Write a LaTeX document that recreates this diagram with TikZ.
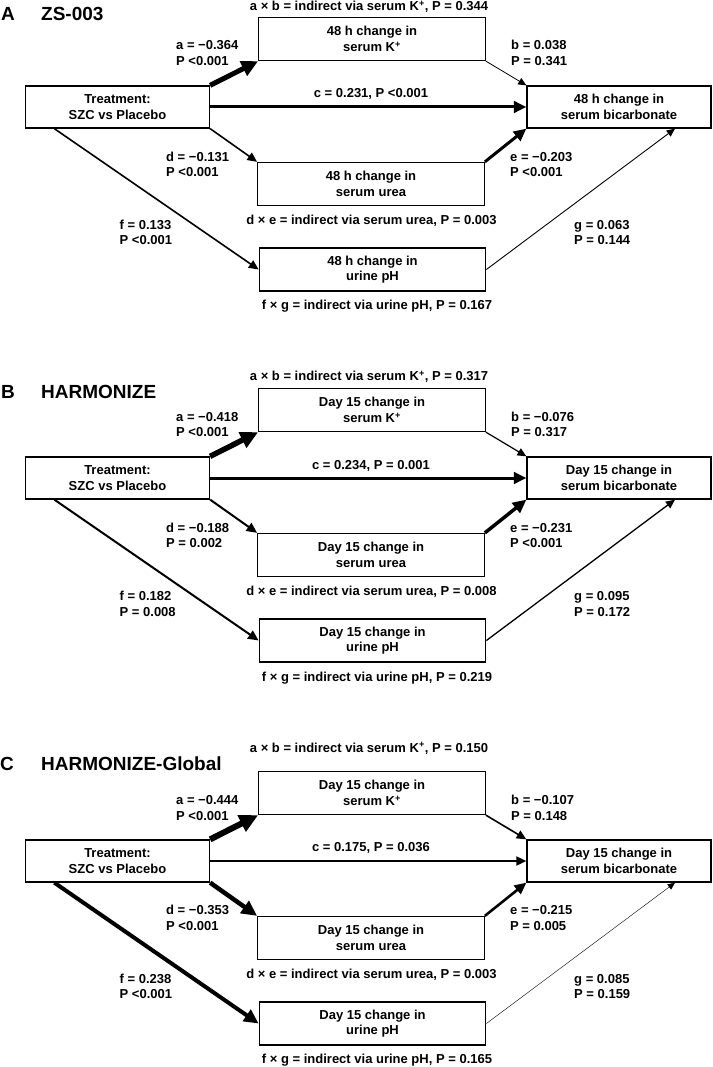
\documentclass[tikz,border=0pt]{standalone}
\usepackage{fontspec}
\setmainfont{Liberation Sans}
\usetikzlibrary{arrows.meta}
\newcommand\bodyfont{\fontsize{13}{15.5}\selectfont\bfseries}
\newcommand\hdrfont{\fontsize{19}{21}\selectfont\bfseries}
\tikzset{
  box/.style={draw, line width=1.3pt, inner sep=0pt, align=center, font=\bodyfont},
  sbox/.style={box, minimum width=184pt, minimum height=42pt},
  wbox/.style={box, minimum width=226.5pt, minimum height=43pt},
  lbl/.style={inner sep=0pt, align=left, anchor=west, font=\bodyfont},
  ctxt/.style={inner sep=0pt, font=\bodyfont},
  hdr/.style={inner sep=0pt, anchor=west, font=\hdrfont},
  arr/.style={line width=#1pt, -{Triangle[length=6.5pt 2, width=5.5pt 2]}}
}
\begin{document}
\begin{tikzpicture}[x=1pt, y=-1pt]
\fill[white] (0,0) rectangle (712,1067);
\useasboundingbox (0,0) rectangle (712,1067);

% ---------------- Panel A ----------------
\node[hdr] (A-let) at (1,14) {A};
\node[hdr] (A-tit) at (41,14) {ZS-003};
\node[ctxt] (A-ab) at (369,7) {a × b = indirect via serum K\textsuperscript{+}, P = 0.344};
\node[sbox] (A-trt) at (117.5,107) {Treatment:\\SZC vs Placebo};
\node[wbox] (A-k) at (372,39) {48 h change in\\serum K\textsuperscript{+}};
\node[sbox] (A-bic) at (619,107) {48 h change in\\serum bicarbonate};
\node[wbox] (A-urea) at (371,184) {48 h change in\\serum urea};
\node[wbox] (A-ph) at (372.5,269.5) {48 h change in\\urine pH};
\node[lbl] (A-la) at (176,53) {a = −0.364\\P <0.001};
\node[lbl] (A-lb) at (511,53) {b = 0.038\\P = 0.341};
\node[ctxt] (A-lc) at (371,94) {c = 0.231, P <0.001};
\node[lbl] (A-ld) at (166,164.5) {d = −0.131\\P <0.001};
\node[lbl] (A-le) at (510,164.5) {e = −0.203\\P <0.001};
\node[ctxt] (A-de) at (371.5,220.5) {d × e = indirect via serum urea, P = 0.003};
\node[lbl] (A-lf) at (119.5,232.5) {f = 0.133\\P <0.001};
\node[lbl] (A-lg) at (574,232.5) {g = 0.063\\P = 0.144};
\node[ctxt] (A-fg) at (377,306.5) {f × g = indirect via urine pH, P = 0.167};
\draw[arr=5] (A-trt.north east) -- (A-k.south west);
\draw[arr=0.8] (A-k.south east) -- (A-bic.north west);
\draw[arr=3] (A-trt.east) -- (A-bic.west);
\draw[arr=1.6] (A-trt.south east) -- (A-urea.north west);
\draw[arr=3] (A-urea.north east) -- (A-bic.south west);
\draw[arr=1.6] ([xshift=29.5pt]A-trt.south west) -- (A-ph.west);
\draw[arr=0.9] (A-ph.east) -- ([xshift=56pt]A-bic.south);

% ---------------- Panel B ----------------
\begin{scope}[yshift=-371pt]
\node[ctxt] (B-ab) at (369,6) {a × b = indirect via serum K\textsuperscript{+}, P = 0.317};
\node[sbox] (B-trt) at (117.5,107) {Treatment:\\SZC vs Placebo};
\node[wbox] (B-k) at (372,39) {Day 15 change in\\serum K\textsuperscript{+}};
\node[sbox] (B-bic) at (619,107) {Day 15 change in\\serum bicarbonate};
\node[wbox] (B-urea) at (371,184) {Day 15 change in\\serum urea};
\node[wbox] (B-ph) at (372.5,269.5) {Day 15 change in\\urine pH};
\node[lbl] (B-la) at (176,53.5) {a = −0.418\\P <0.001};
\node[lbl] (B-lb) at (511,53.5) {b = −0.076\\P = 0.317};
\node[ctxt] (B-lc) at (371,95) {c = 0.234, P = 0.001};
\node[lbl] (B-ld) at (166,164.5) {d = −0.188\\P = 0.002};
\node[lbl] (B-le) at (510,164.5) {e = −0.231\\P <0.001};
\node[ctxt] (B-de) at (371.5,220.7) {d × e = indirect via serum urea, P = 0.008};
\node[lbl] (B-lf) at (119.5,232.8) {f = 0.182\\P = 0.008};
\node[lbl] (B-lg) at (574,232.8) {g = 0.095\\P = 0.172};
\node[ctxt] (B-fg) at (377,307) {f × g = indirect via urine pH, P = 0.219};
\draw[arr=5.5] (B-trt.north east) -- (B-k.south west);
\draw[arr=1.2] (B-k.south east) -- (B-bic.north west);
\draw[arr=3] (B-trt.east) -- (B-bic.west);
\draw[arr=2] (B-trt.south east) -- (B-urea.north west);
\draw[arr=3.5] (B-urea.north east) -- (B-bic.south west);
\draw[arr=2] ([xshift=29.5pt]B-trt.south west) -- (B-ph.west);
\draw[arr=1.3] (B-ph.east) -- ([xshift=56pt]B-bic.south);
\end{scope}
\node[hdr] (B-let) at (1,392) {B};
\node[hdr] (B-tit) at (41,392) {HARMONIZE};

% ---------------- Panel C ----------------
\begin{scope}[yshift=-754pt]
\node[ctxt] (C-ab) at (369,-5.7) {a × b = indirect via serum K\textsuperscript{+}, P = 0.150};
\node[sbox] (C-trt) at (117.5,107) {Treatment:\\SZC vs Placebo};
\node[wbox] (C-k) at (372,39) {Day 15 change in\\serum K\textsuperscript{+}};
\node[sbox] (C-bic) at (619,107) {Day 15 change in\\serum bicarbonate};
\node[wbox] (C-urea) at (371,184) {Day 15 change in\\serum urea};
\node[wbox] (C-ph) at (372.5,269.5) {Day 15 change in\\urine pH};
\node[lbl] (C-la) at (176,53.8) {a = −0.444\\P <0.001};
\node[lbl] (C-lb) at (511,53.8) {b = −0.107\\P = 0.148};
\node[ctxt] (C-lc) at (371,93.7) {c = 0.175, P = 0.036};
\node[lbl] (C-ld) at (166,164) {d = −0.353\\P <0.001};
\node[lbl] (C-le) at (510,164) {e = −0.215\\P = 0.005};
\node[ctxt] (C-de) at (371.5,221) {d × e = indirect via serum urea, P = 0.003};
\node[lbl] (C-lf) at (119.5,232.5) {f = 0.238\\P <0.001};
\node[lbl] (C-lg) at (574,232.5) {g = 0.085\\P = 0.159};
\node[ctxt] (C-fg) at (377,306.5) {f × g = indirect via urine pH, P = 0.165};
\draw[arr=6] (C-trt.north east) -- (C-k.south west);
\draw[arr=1.6] (C-k.south east) -- (C-bic.north west);
\draw[arr=1.8] (C-trt.east) -- (C-bic.west);
\draw[arr=4.5] (C-trt.south east) -- (C-urea.north west);
\draw[arr=2.6] (C-urea.north east) -- (C-bic.south west);
\draw[arr=4] ([xshift=29.5pt]C-trt.south west) -- (C-ph.west);
\draw[arr=0.4] (C-ph.east) -- ([xshift=56pt]C-bic.south);
\end{scope}
\node[hdr] (C-let) at (0,763.5) {C};
\node[hdr] (C-tit) at (41,763.5) {HARMONIZE-Global};
\end{tikzpicture}
\end{document}
